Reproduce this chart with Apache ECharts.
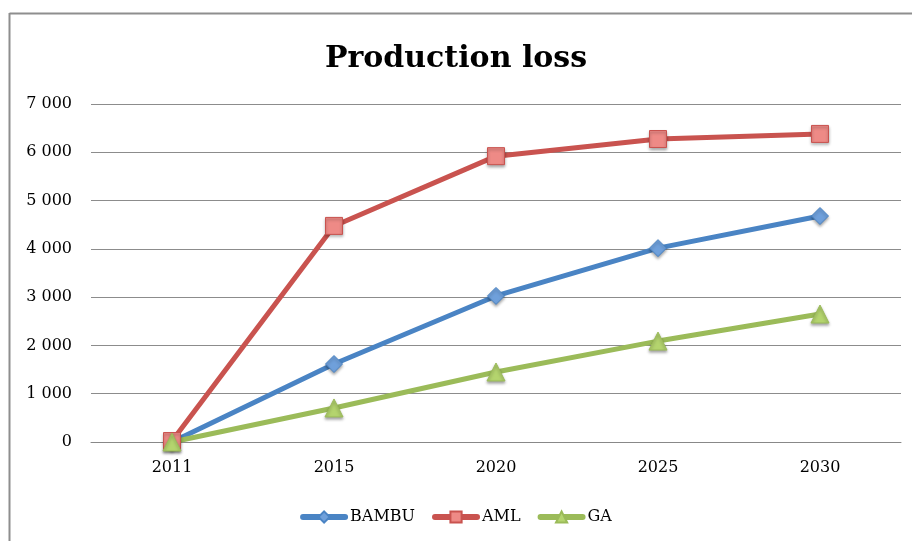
<!DOCTYPE html>
<html><head><meta charset="utf-8">
<script src="https://cdn.jsdelivr.net/npm/echarts@6/dist/echarts.min.js"></script>
<style>html,body{margin:0;padding:0;background:#fff}#c{width:912px;height:541px}</style>
</head><body><div id="c"></div>
<script>
const categories = ['2011', '2015', '2020', '2025', '2030'];
const bambu = [0, 1615, 3025, 4015, 4680];
const aml = [20, 4475, 5920, 6275, 6380];
const ga = [0, 705, 1450, 2090, 2650];
const yTicks = [0, 1000, 2000, 3000, 4000, 5000, 6000, 7000];

const font = 'DejaVu Serif, Liberation Serif, serif';
const chart = echarts.init(document.getElementById('c'), null, {renderer: 'canvas'});
function fmt(v){ return String(v).replace(/\B(?=(\d{3})+(?!\d))/g, ' '); }
const lineW = 5;
function mk(name, data, color, markerColor, symbol, size){
  return {
    name, type: 'line', data, symbol, symbolSize: size,
    lineStyle: {color, width: lineW},
    itemStyle: {color: markerColor, borderColor: color, borderWidth: 1,
      shadowColor: 'rgba(0,0,0,0.35)', shadowBlur: 3, shadowOffsetY: 2},
    emphasis: {disabled: true}, animation: false, z: 3
  };
}
chart.setOption({
  animation: false,
  backgroundColor: '#fff',
  title: {text: 'Production loss', left: 'center', top: 39,
    textStyle: {fontFamily: font, fontWeight: 'bold', fontSize: 30, color: '#000'}},
  grid: {left: 91, right: 11, top: 104, bottom: 99, containLabel: false},
  legend: {bottom: 11, left: 'center', itemWidth: 42, itemHeight: 14, itemGap: 17,
    lineStyle: {width: 6, cap: 'round'},
    textStyle: {fontFamily: font, fontSize: 16, color: '#000', padding: [0, 0, 0, 0]},
    data: ['BAMBU', 'AML', 'GA']},
  xAxis: {type: 'category', data: categories, boundaryGap: true,
    axisLine: {lineStyle: {color: '#888', width: 1}}, axisTick: {show: false},
    axisLabel: {fontFamily: font, fontSize: 16, color: '#000', margin: 18}},
  yAxis: {type: 'value', min: yTicks[0], max: yTicks[yTicks.length-1], interval: 1000,
    axisLine: {show: false}, axisTick: {show: false},
    splitLine: {lineStyle: {color: '#8c8c8c', width: 1}},
    axisLabel: {fontFamily: font, fontSize: 16, color: '#000', margin: 19, formatter: fmt}},
  graphic: [
    {type: 'line', shape: {x1: 9.5, y1: 13.5, x2: 912, y2: 13.5}, style: {stroke: '#8e8e8e', lineWidth: 2}},
    {type: 'line', shape: {x1: 9.5, y1: 13, x2: 9.5, y2: 541}, style: {stroke: '#8e8e8e', lineWidth: 2}}
  ],
  series: [
    mk('BAMBU', bambu, '#4A84C4', '#6FA0DB', 'diamond', 17),
    mk('AML', aml, '#C9534F', '#EE8A86', 'rect', 17),
    mk('GA', ga, '#9BBB59', '#B4D46E', 'triangle', 18)
  ]
});
</script></body></html>
